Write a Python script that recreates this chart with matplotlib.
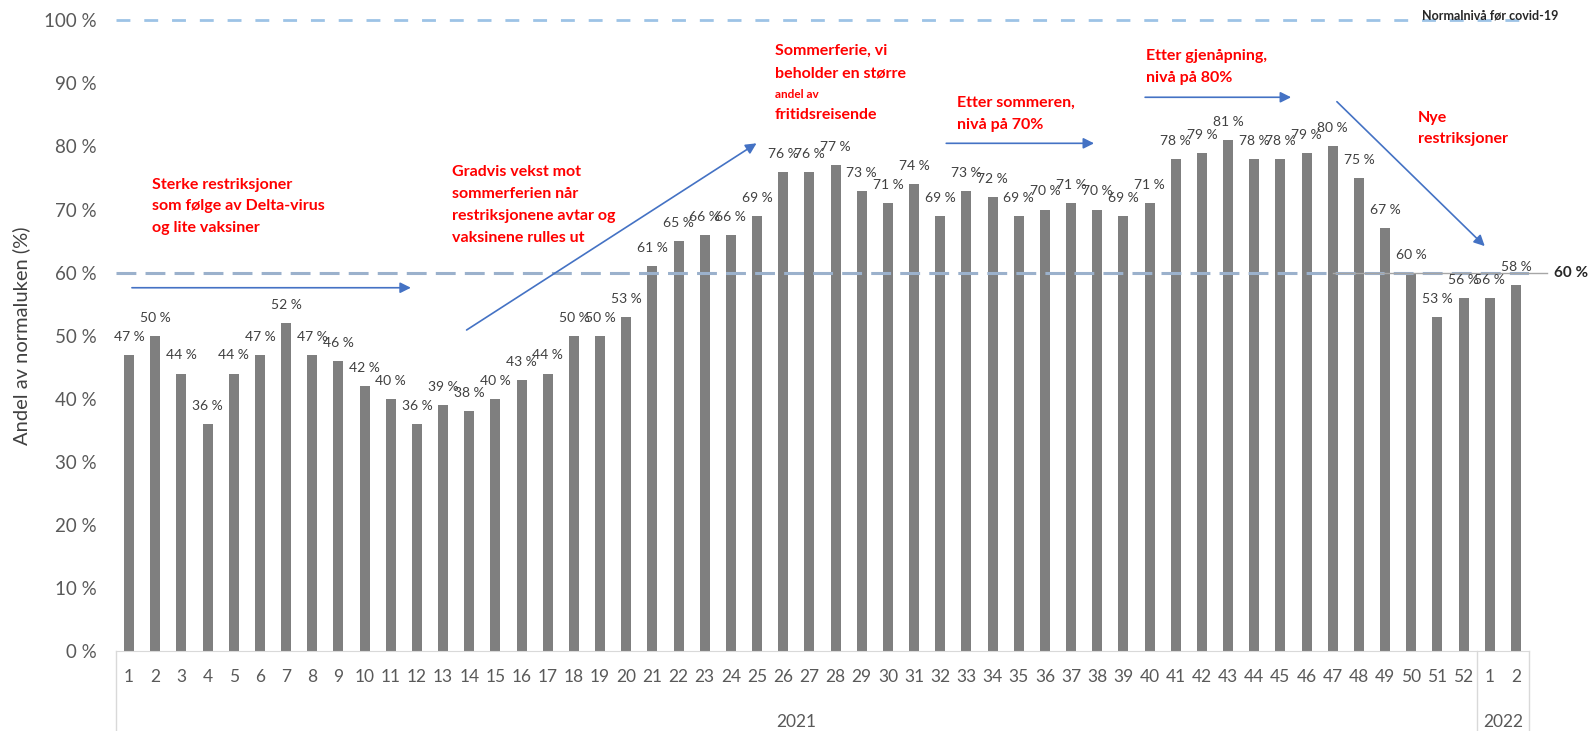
import matplotlib.pyplot as plt
import matplotlib.transforms as mtransforms

plt.rcParams['font.family'] = ['Lato', 'DejaVu Sans']

# weekly share of a normal week (%)
weeks_2021 = list(range(1, 53))
weeks_2022 = [1, 2]
values_2021 = [47, 50, 44, 36, 44, 47, 52, 47, 46, 42, 40, 36, 39, 38, 40, 43, 44, 50, 50, 53,
               61, 65, 66, 66, 69, 76, 76, 77, 73, 71, 74, 69, 73, 72, 69, 70, 71, 70, 69, 71,
               78, 79, 81, 78, 78, 79, 80, 75, 67, 60, 53, 56]
values_2022 = [56, 58]
years = ['2021', '2022']
normal_level = 100
target_level = 60

week_labels = [str(w) for w in weeks_2021 + weeks_2022]
values = values_2021 + values_2022
x = list(range(len(values)))

fig = plt.figure(figsize=(15.93, 7.31), dpi=100)
ax = fig.add_axes([0.0728, 0.1094, 0.887, 0.8628])

ax.bar(x, values, width=0.38, color='#7f7f7f', zorder=2)
for xi, v in zip(x, values):
    ax.annotate(f'{v} %', (xi, v), xytext=(0, 13), textcoords='offset points',
                ha='center', va='center', fontsize=10, color='#404040', zorder=4)

ax.set_xlim(-0.5, len(values) - 0.5)
ax.set_ylim(0, 100)
ax.set_yticks(range(0, 101, 10))
ax.set_yticklabels([f'{t} %' for t in range(0, 101, 10)], fontsize=13.5, color='#595959')
ax.set_xticks(x)
ax.set_xticklabels(week_labels, fontsize=12.5, color='#595959')
ax.tick_params(axis='both', length=0)
ax.tick_params(axis='x', pad=13)
ax.tick_params(axis='y', pad=14)
for s in ['top', 'right', 'left']:
    ax.spines[s].set_visible(False)
ax.spines['bottom'].set_color('#d9d9d9')
ax.set_ylabel('Andel av normaluken (%)', fontsize=14.5, color='#404040', labelpad=10)

# year grouping below the axis
trans = mtransforms.blended_transform_factory(ax.transData, ax.transAxes)
n21 = len(weeks_2021)
for xb in [-0.5, n21 - 0.5, len(values) - 0.5]:
    ax.plot([xb, xb], [0, -0.13], transform=trans, color='#d9d9d9', lw=1, clip_on=False)
ax.text((n21 - 1) / 2, -0.112, years[0], transform=trans, ha='center', va='center',
        fontsize=12.5, color='#595959')
ax.text(n21 + (len(weeks_2022) - 1) / 2, -0.112, years[1], transform=trans, ha='center',
        va='center', fontsize=12.5, color='#595959')

# reference lines
ax.axhline(normal_level, color='#9dc3e6', lw=2, ls=(0, (5, 5)), clip_on=False, zorder=1)
ax.axhline(target_level, color='#9bb1cc', lw=2.2, ls=(0, (6.5, 3)), zorder=3)
ax.plot([46.0, 54.2], [target_level, target_level], color='#a6a6a6', lw=1, clip_on=False, zorder=3)
ax.text(54.45, target_level, '60 %', fontsize=11, fontweight='bold', color='#262626',
        va='center', ha='left', clip_on=False)
ax.text(49.41, 100.7, 'Normalnivå før covid-19', fontsize=9, fontweight='bold',
        color='#262626', va='center', ha='left')

red = '#ff0000'
blue = '#4472c4'


def note(xpos, ys, lines, sizes=None):
    for i, (yy, line) in enumerate(zip(ys, lines)):
        fs = sizes[i] if sizes else 11.5
        ax.text(xpos, yy, line, fontsize=fs, fontweight='bold', color=red, va='center', ha='left')


def arrow(x0, y0, x1, y1):
    ax.annotate('', xy=(x1, y1), xytext=(x0, y0),
                arrowprops=dict(arrowstyle='-|>', color=blue, lw=1.2, mutation_scale=16,
                                shrinkA=0, shrinkB=0))


note(0.88, [73.9, 70.6, 67.1], ['Sterke restriksjoner', 'som følge av Delta-virus', 'og lite vaksiner'])
arrow(0.11, 57.6, 10.77, 57.6)
note(12.33, [75.9, 72.5, 69.0, 65.5], ['Gradvis vekst mot', 'sommerferien når',
                                      'restriksjonene avtar og', 'vaksinene rulles ut'])
arrow(12.9, 50.9, 23.98, 80.5)
note(24.67, [95.1, 91.5, 88.2, 85.0], ['Sommerferie, vi', 'beholder en større', 'andel av',
                                      'fritidsreisende'], sizes=[11.5, 11.5, 8.5, 11.5])
note(31.65, [86.9, 83.4], ['Etter sommeren,', 'nivå på 70%'])
arrow(31.23, 80.5, 36.88, 80.5)
note(38.87, [94.3, 90.9], ['Etter gjenåpning,', 'nivå på 80%'])
arrow(38.83, 87.8, 44.41, 87.8)
arrow(46.16, 87.1, 51.81, 64.2)
note(49.26, [84.5, 81.2], ['Nye', 'restriksjoner'])

plt.savefig('out.png', dpi=100)
